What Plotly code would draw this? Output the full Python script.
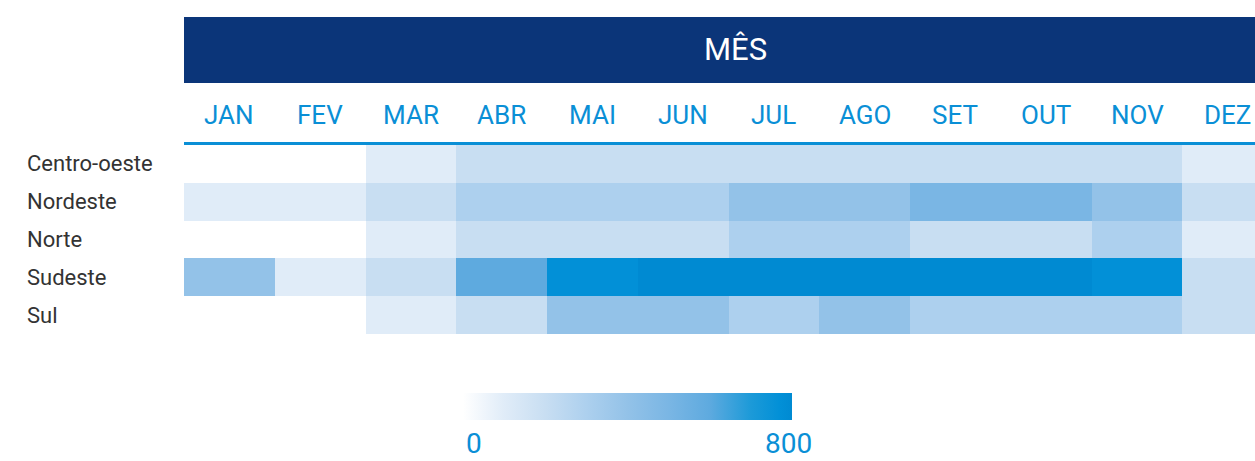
import plotly.graph_objects as go

months = ["JAN", "FEV", "MAR", "ABR", "MAI", "JUN", "JUL", "AGO", "SET", "OUT", "NOV", "DEZ"]
regions = ["Centro-oeste", "Nordeste", "Norte", "Sudeste", "Sul"]

centro_oeste = [0, 0, 100, 200, 200, 200, 200, 200, 200, 200, 200, 100]
nordeste = [100, 100, 200, 300, 300, 300, 400, 400, 500, 500, 400, 200]
norte = [0, 0, 100, 200, 200, 200, 300, 300, 200, 200, 300, 100]
sudeste = [400, 100, 200, 600, 770, 800, 800, 800, 800, 800, 770, 200]
sul = [0, 0, 100, 200, 400, 400, 300, 400, 300, 300, 300, 200]

cb_min, cb_max = 0, 800

z = [centro_oeste, nordeste, norte, sudeste, sul]

colorscale = [
    [0.0, "#FFFFFF"],
    [0.125, "#E0ECF8"],
    [0.25, "#C8DEF2"],
    [0.375, "#ADD0EE"],
    [0.5, "#93C2E8"],
    [0.625, "#7AB6E4"],
    [0.75, "#5EAADF"],
    [0.875, "#1C9AD8"],
    [0.9625, "#0290D7"],
    [1.0, "#008AD2"],
]

W, H = 1255, 461


def fx(x):
    return x / W


def fy(y):
    return 1 - y / H


BLUE = "#0A8FD6"
NAVY = "#0B3579"
FONT = "Roboto"

fig = go.Figure(go.Heatmap(
    z=z, x=months, y=regions,
    zmin=cb_min, zmax=cb_max,
    colorscale=colorscale,
    xgap=0, ygap=0,
    colorbar=dict(
        orientation="h",
        x=fx(627.5), xanchor="center",
        y=fy(393), yanchor="top",
        len=329, lenmode="pixels",
        thickness=27, thicknessmode="pixels",
        xpad=0, ypad=0,
        outlinewidth=0,
        showticklabels=False,
        ticks="",
    ),
))

fig.update_layout(
    width=W, height=H,
    margin=dict(l=0, r=0, t=0, b=0),
    paper_bgcolor="white",
    plot_bgcolor="white",
    font=dict(family=FONT),
    xaxis=dict(domain=[fx(184), 1], range=[-0.5, 11.3],
               showticklabels=False, showgrid=False, zeroline=False, ticks=""),
    yaxis=dict(domain=[fy(334), fy(145)], autorange="reversed",
               showticklabels=False, showgrid=False, zeroline=False, ticks=""),
)

# header band
fig.add_shape(type="rect", xref="paper", yref="paper",
              x0=fx(184), x1=1, y0=fy(83), y1=fy(17),
              fillcolor=NAVY, line_width=0, layer="above")
fig.add_annotation(xref="paper", yref="paper", x=fx(736), y=fy(50),
                   text="MÊS", showarrow=False,
                   font=dict(family=FONT, size=31, color="white"),
                   xanchor="center", yanchor="middle")

# month labels
for m in months:
    fig.add_annotation(xref="x", yref="paper", x=m, y=fy(115),
                       text=m, showarrow=False,
                       font=dict(family=FONT, size=26, color=BLUE),
                       xanchor="center", yanchor="middle")

# blue line under months
fig.add_shape(type="line", xref="paper", yref="paper",
              x0=fx(184), x1=1, y0=fy(143.5), y1=fy(143.5),
              line=dict(color=BLUE, width=3), layer="above")

# row labels
for r in regions:
    fig.add_annotation(xref="paper", yref="y", x=fx(25), y=r,
                       text=r, showarrow=False,
                       font=dict(family=FONT, size=22, color="#333333"),
                       xanchor="left", yanchor="middle")

# colorbar end labels
fig.add_annotation(xref="paper", yref="paper", x=fx(474), y=fy(443.5),
                   text=str(cb_min), showarrow=False,
                   font=dict(family=FONT, size=28, color=BLUE),
                   xanchor="center", yanchor="middle")
fig.add_annotation(xref="paper", yref="paper", x=fx(788.5), y=fy(443.5),
                   text=str(cb_max), showarrow=False,
                   font=dict(family=FONT, size=28, color=BLUE),
                   xanchor="center", yanchor="middle")

fig.write_html("out.html",
               config={"displayModeBar": False},
               post_script="document.body.style.margin='0';document.body.style.overflow='hidden';")
